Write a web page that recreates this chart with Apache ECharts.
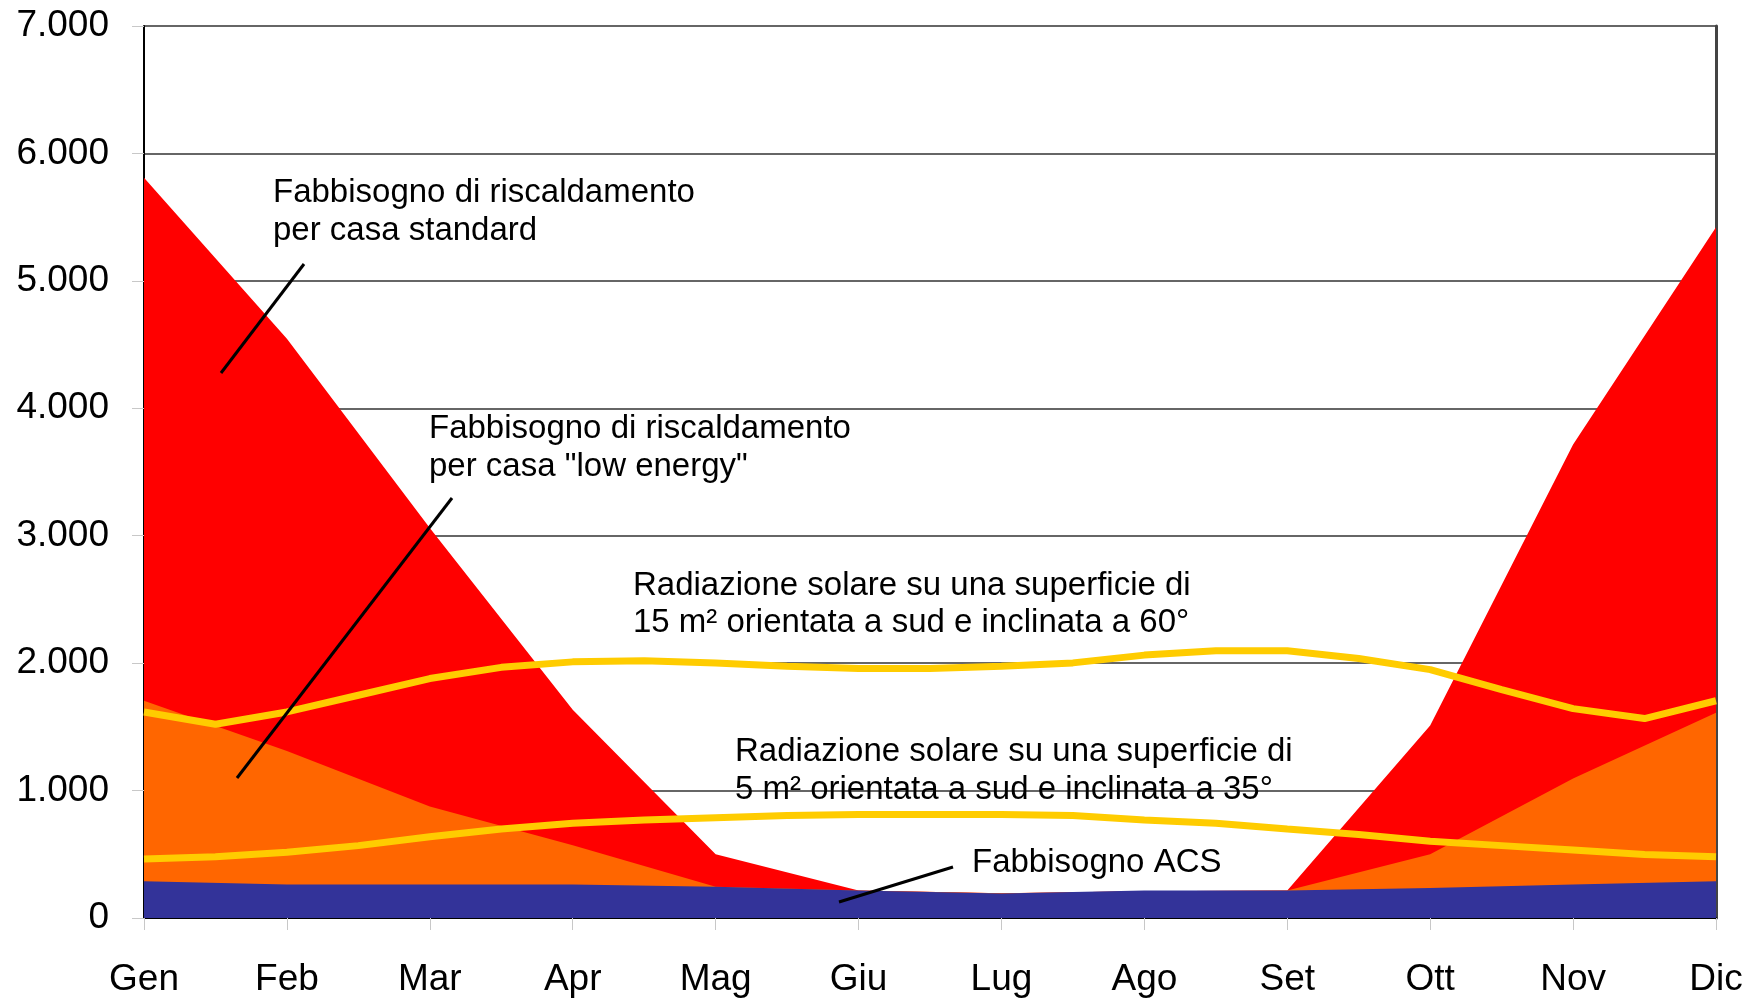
<!DOCTYPE html>
<html>
<head>
<meta charset="utf-8">
<script src="https://cdn.jsdelivr.net/npm/echarts@6/dist/echarts.min.js"></script>
<style>
  html, body { margin: 0; padding: 0; background: #fff; }
  #chart { width: 1747px; height: 998px; }
</style>
</head>
<body>
<div id="chart"></div>
<script>
const months = ['Gen', 'Feb', 'Mar', 'Apr', 'Mag', 'Giu', 'Lug', 'Ago', 'Set', 'Ott', 'Nov', 'Dic']

// fabbisogni mensili
const riscStandard = [5810, 4545, 3060, 1635, 500, 215, 195, 210, 215, 1510, 3715, 5420]
const riscLowEnergy = [1705, 1310, 875, 570, 245, 215, 195, 210, 215, 500, 1095, 1610]
const fabbAcs = [288, 262, 262, 262, 245, 215, 192, 215, 215, 236, 262, 288]

// radiazione solare, un valore ogni mezzo mese (Gen, metà Gen, Feb, ...)
const rad15m60 = [1617, 1521, 1617, 1748, 1879, 1967, 2010, 2019, 2002, 1976, 1958, 1958,
  1976, 2002, 2063, 2098, 2098, 2037, 1949, 1792, 1643, 1565, 1705]
const rad5m35 = [463, 481, 516, 568, 638, 699, 743, 769, 787, 804, 813, 813,
  813, 804, 769, 743, 699, 656, 603, 568, 533, 498, 481]

const yTicks = [0, 1000, 2000, 3000, 4000, 5000, 6000, 7000]

const font = "'Liberation Sans', Arial, sans-serif"
const noteFont = '33px ' + font

const monthly = arr => arr.map((v, i) => [i, v])
const halfMonthly = arr => arr.map((v, i) => [i / 2, v])

const areaSeries = (name, data, color) => ({
  name: name,
  type: 'line',
  data: monthly(data),
  symbol: 'none',
  lineStyle: {width: 0},
  areaStyle: {color: color, opacity: 1},
  itemStyle: {color: color},
  silent: true
})

const radSeries = (name, data) => ({
  name: name,
  type: 'line',
  data: halfMonthly(data),
  symbol: 'none',
  lineStyle: {width: 7, color: '#FFCC00'},
  itemStyle: {color: '#FFCC00'},
  silent: true
})

const chart = echarts.init(document.getElementById('chart'))

chart.setOption({
  backgroundColor: '#ffffff',
  animation: false,
  grid: {left: 144, right: 31, top: 26, bottom: 79},
  xAxis: {
    type: 'value',
    min: 0,
    max: months.length - 1,
    interval: 1,
    axisLine: {lineStyle: {color: '#000', width: 2}},
    axisTick: {show: true, length: 12, lineStyle: {color: '#c8c8c8', width: 1}},
    axisLabel: {
      color: '#000',
      fontFamily: font,
      fontSize: 37,
      margin: 43,
      formatter: v => months[v] ?? ''
    },
    splitLine: {show: false}
  },
  yAxis: [
    {
      type: 'value',
      min: yTicks[0],
      max: yTicks[yTicks.length - 1],
      interval: 1000,
      axisLine: {show: true, lineStyle: {color: '#000', width: 2}},
      axisTick: {show: true, length: 12, lineStyle: {color: '#c8c8c8', width: 1}},
      axisLabel: {
        color: '#000',
        fontFamily: font,
        fontSize: 37,
        margin: 35,
        formatter: v => v === 0 ? '0' : (v / 1000) + '.000'
      },
      splitLine: {show: true, lineStyle: {color: '#333', width: 1.5}}
    },
    {
      type: 'value',
      position: 'right',
      min: yTicks[0],
      max: yTicks[yTicks.length - 1],
      axisLine: {show: true, lineStyle: {color: '#444', width: 3}},
      axisTick: {show: false},
      axisLabel: {show: false},
      splitLine: {show: false}
    }
  ],
  series: [
    areaSeries('Fabbisogno di riscaldamento per casa standard', riscStandard, '#FF0000'),
    areaSeries('Fabbisogno di riscaldamento per casa "low energy"', riscLowEnergy, '#FF6600'),
    areaSeries('Fabbisogno ACS', fabbAcs, '#333399'),
    radSeries('Radiazione solare 15 m2 60°', rad15m60),
    radSeries('Radiazione solare 5 m2 35°', rad5m35)
  ],
  graphic: [
    {type: 'text', left: 273, top: 174, z: 100,
      style: {text: 'Fabbisogno di riscaldamento\nper casa standard', font: noteFont, fill: '#000', lineHeight: 38}},
    {type: 'text', left: 429, top: 410, z: 100,
      style: {text: 'Fabbisogno di riscaldamento\nper casa "low energy"', font: noteFont, fill: '#000', lineHeight: 38}},
    {type: 'text', left: 633, top: 567, z: 100,
      style: {text: 'Radiazione solare su una superficie di\n15 m² orientata a sud e inclinata a 60°', font: noteFont, fill: '#000', lineHeight: 37}},
    {type: 'text', left: 735, top: 733, z: 100,
      style: {text: 'Radiazione solare su una superficie di\n5 m² orientata a sud e inclinata a 35°', font: noteFont, fill: '#000', lineHeight: 38}},
    {type: 'text', left: 972, top: 846, z: 100,
      style: {text: 'Fabbisogno ACS', font: noteFont, fill: '#000'}},
    {type: 'line', z: 100, shape: {x1: 304, y1: 264, x2: 221, y2: 373}, style: {stroke: '#000', lineWidth: 3}},
    {type: 'line', z: 100, shape: {x1: 452, y1: 498, x2: 237, y2: 778}, style: {stroke: '#000', lineWidth: 3}},
    {type: 'line', z: 100, shape: {x1: 953, y1: 867, x2: 839, y2: 902}, style: {stroke: '#000', lineWidth: 3}}
  ]
})
</script>
</body>
</html>
